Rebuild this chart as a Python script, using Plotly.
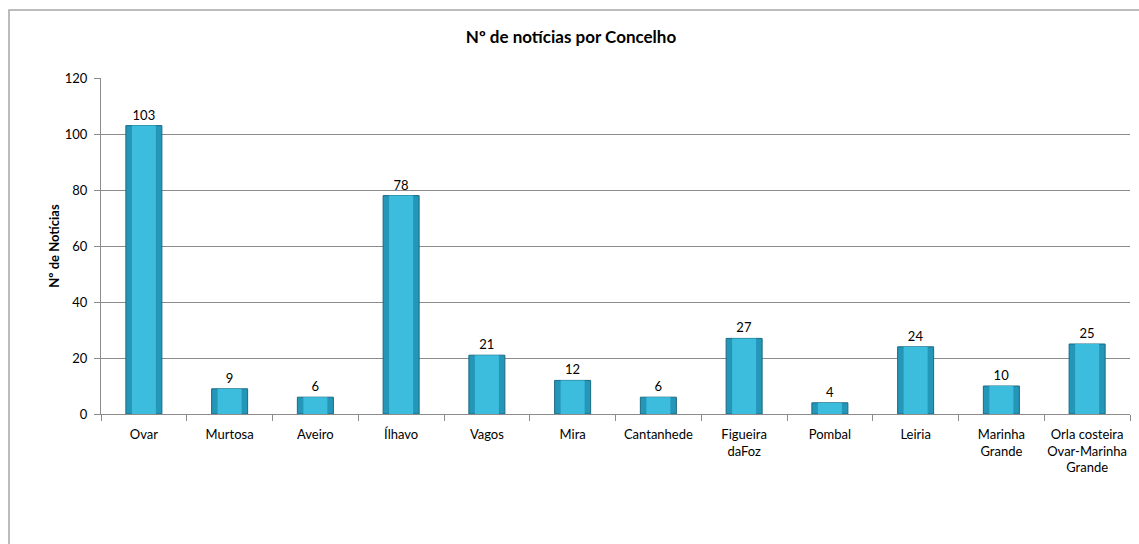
import plotly.graph_objects as go

concelhos = ["Ovar", "Murtosa", "Aveiro", "Ílhavo", "Vagos", "Mira", "Cantanhede",
             "Figueira<br>daFoz", "Pombal", "Leiria", "Marinha<br>Grande",
             "Orla costeira<br>Ovar-Marinha<br>Grande"]
noticias = [103, 9, 6, 78, 21, 12, 6, 27, 4, 24, 10, 25]

W, H = 1139, 544
L, R, T, B = 101, 9, 78, 130
pw, ph = W - L - R, H - T - B

FONT = "Lato, Carlito, Liberation Sans, sans-serif"

fig = go.Figure()
fig.add_trace(go.Bar(
    x=concelhos, y=noticias,
    marker=dict(color="#2496B8", line=dict(color="#1A6A82", width=1)),
    text=[str(v) for v in noticias], textposition="outside",
    textfont=dict(family=FONT, size=13, color="#000000"),
    cliponaxis=False,
    width=0.42,
))
# lighter inner face for a bevelled look
fig.add_trace(go.Bar(
    x=concelhos, y=noticias,
    marker=dict(color="#3CBDDD", line=dict(width=0)),
    width=0.28, hoverinfo="skip",
))

fig.update_layout(
    width=W, height=H,
    margin=dict(l=L, r=R, t=T, b=B),
    paper_bgcolor="white", plot_bgcolor="white",
    barmode="overlay", showlegend=False,
    title=dict(text="<b>Nº de notícias por Concelho</b>", x=(571 - L) / pw, xref="paper",
               xanchor="center", y=1 - 37 / H, yanchor="middle",
               font=dict(family=FONT, size=17, color="#000000")),
    font=dict(family=FONT, size=13, color="#000000"),
    shapes=[dict(type="rect", xref="paper", yref="paper",
                 x0=(9 - L) / pw, x1=(W + 20 - L) / pw,
                 y0=-(H + 20 - T - ph) / ph, y1=1 + (T - 10) / ph,
                 line=dict(color="#A6A6A6", width=1.5), layer="below")],
)
fig.update_yaxes(
    range=[0, 120], dtick=20, showgrid=True, gridcolor="#8C8C8C", gridwidth=1,
    showline=True, linecolor="#8C8C8C", linewidth=1,
    ticks="outside", ticklen=6, tickcolor="#8C8C8C", ticklabelstandoff=4,
    tickfont=dict(size=13),
    title=dict(text="<b>Nº de Notícias</b>", font=dict(family=FONT, size=13), standoff=2),
    zeroline=False,
)
fig.update_xaxes(
    showline=True, linecolor="#8C8C8C", linewidth=1,
    ticks="outside", ticklen=6, tickcolor="#8C8C8C", tickson="boundaries",
    showgrid=False, tickangle=0, ticklabelstandoff=8,
    tickfont=dict(size=13),
)

fig.write_html("out.html")
